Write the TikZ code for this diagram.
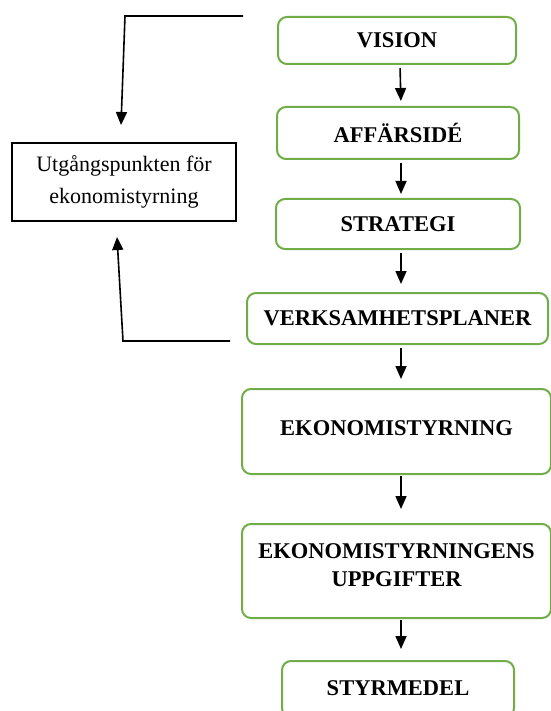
\documentclass[tikz,border=0pt]{standalone}
\usepackage{fontspec}
\setmainfont{Liberation Serif}
\usetikzlibrary{arrows.meta}
\definecolor{boxgreen}{RGB}{112,173,71}

\tikzset{
  stepbox/.style={draw=boxgreen, line width=2pt, rounded corners=9pt, align=center,
    font=\fontsize{22.5}{28}\selectfont\bfseries, inner sep=0pt},
  startbox/.style={draw=black, line width=1.8pt, align=center,
    font=\fontsize{22}{32}\selectfont, inner sep=0pt},
  arr/.style={line width=1.6pt, -{Triangle[length=13pt,width=11pt]}}
}

\begin{document}
\begin{tikzpicture}[x=1pt,y=-1pt]
\useasboundingbox (0,0) rectangle (550,711);

\node[stepbox, minimum width=238pt, minimum height=47pt] (vision) at (397,40.5) {VISION};
\node[stepbox, minimum width=242pt, minimum height=52pt] (affarside) at (398,133) {AFFÄRSIDÉ};
\node[stepbox, minimum width=244pt, minimum height=50pt] (strategi) at (398,224) {STRATEGI};
\node[stepbox, minimum width=301pt, minimum height=51pt] (planer) at (397.5,318.5) {VERKSAMHETSPLANER};
\node[stepbox, minimum width=309pt, minimum height=85pt] (styrning) at (396.5,431.5) {\raisebox{6pt}{EKONOMISTYRNING}};
\node[stepbox, minimum width=309pt, minimum height=94pt, text depth=11pt] (uppgifter) at (396.5,571) {EKONOMISTYRNINGENS\\UPPGIFTER};
\node[stepbox, minimum width=232pt, minimum height=56pt] (styrmedel) at (398,689) {\raisebox{2pt}{STYRMEDEL}};

\node[startbox, minimum width=224pt, minimum height=78pt] (start) at (124,182) {Utgångspunkten för\\ekonomistyrning};

\draw[arr, shorten <=3pt, shorten >=5pt] ([xshift=3pt]vision.south) -- ([xshift=3pt]affarside.north);
\draw[arr, shorten <=3pt, shorten >=4pt] ([xshift=3pt]affarside.south) -- ([xshift=3pt]strategi.north);
\draw[arr, shorten <=3pt, shorten >=8pt] ([xshift=3pt]strategi.south) -- ([xshift=3.5pt]planer.north);
\draw[arr, shorten <=3pt, shorten >=9pt] ([xshift=3.5pt]planer.south) -- ([xshift=4.5pt]styrning.north);
\draw[arr, shorten <=1pt, shorten >=14pt] ([xshift=4.5pt]styrning.south) -- ([xshift=4.5pt]uppgifter.north);
\draw[arr, shorten <=1pt, shorten >=11pt] ([xshift=4.5pt]uppgifter.south) -- ([xshift=3pt]styrmedel.north);

\coordinate (topR) at (243,16);
\coordinate (topL) at (125,16);
\coordinate (topTip) at (121,125);
\coordinate (botR) at (230,341);
\coordinate (botL) at (123,341);
\coordinate (botTip) at (117,237);

\draw[arr] (topR) -- (topL) -- (topTip);
\draw[arr] (botR) -- (botL) -- (botTip);
\end{tikzpicture}
\end{document}
